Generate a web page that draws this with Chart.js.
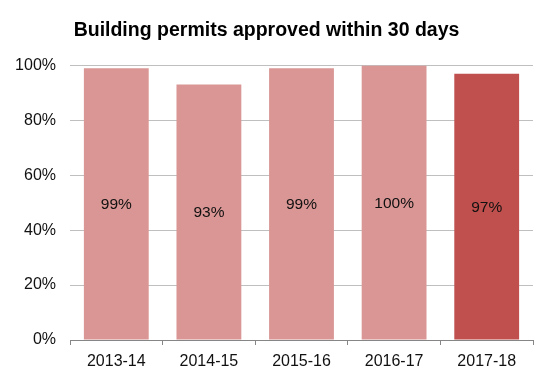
<!DOCTYPE html>
<html>
<head>
<meta charset="utf-8">
<script src="https://cdn.jsdelivr.net/npm/chart.js@4/dist/chart.umd.min.js"></script>
<style>
html,body{margin:0;padding:0;background:#fff;}
#wrap{width:556px;height:382px;position:relative;}
</style>
</head>
<body>
<div id="wrap"><canvas id="c" width="556" height="382"></canvas></div>
<script>
const categories = ["2013-14", "2014-15", "2015-16", "2016-17", "2017-18"];
const values = [99, 93, 99, 100, 97];
const valueLabels = ["99%", "93%", "99%", "100%", "97%"];
const barColors = ["#D99694", "#D99694", "#D99694", "#D99694", "#C0504D"];
const yTicks = [0, 20, 40, 60, 80, 100];

const FONT = '"Liberation Sans", Arial, sans-serif';

const centerLabels = {
  id: 'centerLabels',
  afterDatasetsDraw(chart) {
    const ctx = chart.ctx;
    const meta = chart.getDatasetMeta(0);
    ctx.save();
    ctx.font = '15.5px ' + FONT;
    ctx.fillStyle = '#111';
    ctx.textAlign = 'center';
    ctx.textBaseline = 'middle';
    meta.data.forEach((el, i) => {
      const y = (el.y + el.base) / 2 + 1;
      ctx.fillText(valueLabels[i], el.x, y);
    });
    ctx.restore();
  }
};

new Chart(document.getElementById('c'), {
  type: 'bar',
  data: {
    labels: categories,
    datasets: [{
      data: values,
      backgroundColor: barColors,
      borderWidth: 0,
      barPercentage: 0.7,
      categoryPercentage: 1.0
    }]
  },
  options: {
    responsive: false,
    animation: false,
    layout: { padding: { left: 0, right: 23, top: 0, bottom: 0 } },
    plugins: {
      legend: { display: false },
      tooltip: { enabled: false },
      title: {
        display: true,
        text: 'Building permits approved within 30 days',
        color: '#000',
        font: { family: FONT, size: 19.5, weight: 'bold' },
        padding: { top: 19, bottom: 23 }
      }
    },
    scales: {
      x: {
        grid: { drawOnChartArea: false, drawTicks: true, tickLength: 5, color: '#868686' },
        border: { color: '#868686', width: 1 },
        ticks: { color: '#111', font: { family: FONT, size: 16 }, padding: 7, maxRotation: 0 },
        afterFit(s) { s.height = 42; }
      },
      y: {
        min: 0, max: 100,
        afterBuildTicks(s) { s.ticks = yTicks.map(v => ({ value: v })); },
        grid: { color: '#BFBFBF', drawTicks: false },
        border: { display: false },
        ticks: { color: '#111', padding: 14, font: { family: FONT, size: 16 }, callback: v => v + '%' },
        afterFit(s) { s.width = 70; }
      }
    }
  },
  plugins: [centerLabels]
});
</script>
</body>
</html>
